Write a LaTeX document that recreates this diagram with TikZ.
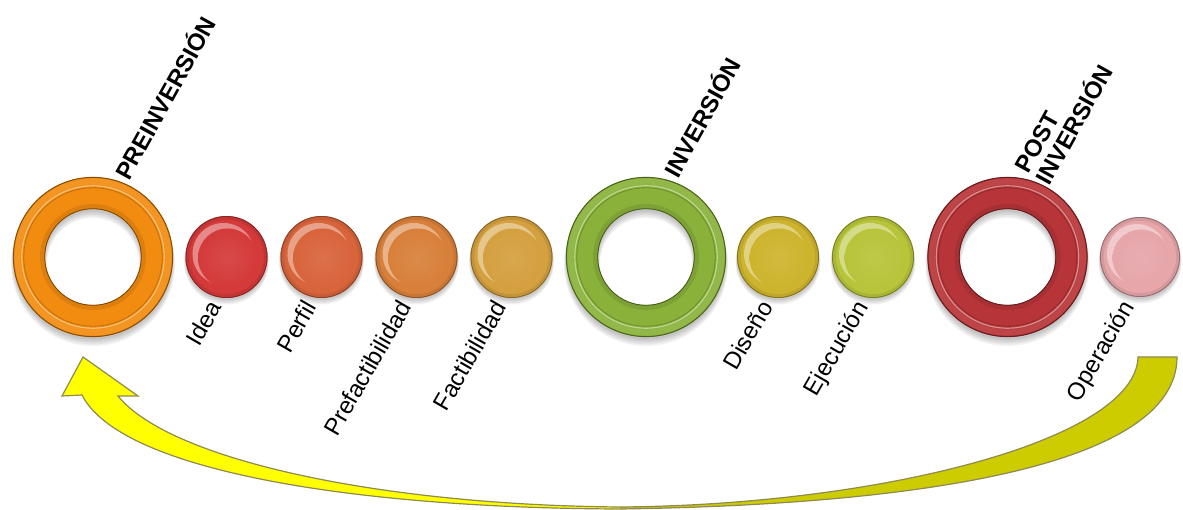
\documentclass[tikz,border=0pt]{standalone}
\usepackage{fontspec}
\setmainfont{Liberation Sans}
\usetikzlibrary{calc}
\definecolor{cPre}{HTML}{F28C10}
\definecolor{cInv}{HTML}{8AB23A}
\definecolor{cPost}{HTML}{B73538}
\definecolor{cIdea}{HTML}{D43A3A}
\definecolor{cPerfil}{HTML}{D8643C}
\definecolor{cPrefac}{HTML}{D8803A}
\definecolor{cFac}{HTML}{D4A040}
\definecolor{cDis}{HTML}{CDB42E}
\definecolor{cEje}{HTML}{B8C43A}
\definecolor{cOpe}{HTML}{E6A6AA}
\definecolor{arrYellow}{HTML}{FFFF00}
\definecolor{arrOlive}{HTML}{CCCC00}
\definecolor{arrEdge}{HTML}{8E8A52}
\tikzset{
  lbl/.style={font=\fontsize{24}{25}\selectfont, rotate=60, anchor=base east, inner sep=0pt},
  head/.style={font=\fontsize{24}{25}\selectfont\bfseries, rotate=61, anchor=base west, inner sep=0pt},
  arrowline/.style={draw=arrEdge, line width=1.2pt, line join=miter},
  holder/.style={circle, inner sep=0pt, draw=none}
}
\newcommand{\myRing}[3]{%
  \node[holder, minimum size=160pt] (#1) at #2 {};
  \begin{scope}[shift={#2}]
    \foreach \s in {1,...,5}{\fill[black,opacity=0.05,even odd rule] (0,2+\s) circle ({79+\s*0.6}) (0,2+\s) circle ({49-\s*0.6});}
    \fill[#3, even odd rule] (0,0) circle (80) (0,0) circle (48);
    \draw[#3!92!white, line width=6pt] (0,0) circle (75.5);
    \draw[#3!55!white, line width=1.2pt] (0,0) circle (71.2);
    \draw[#3!80!black, line width=0.8pt] (0,0) circle (69.2);
    \draw[#3!80!black, line width=5pt, opacity=.45] (0,0) circle (50.5);
    \draw[#3!55!black, line width=1pt] (0,0) circle (79.6);
    \draw[#3!50!black, line width=0.8pt] (0,0) circle (48.3);
  \end{scope}}
\newcommand{\myDisc}[4]{%
  \node[holder, minimum size=82pt] (#1) at #2 {};
  \begin{scope}[shift={#2}]
    \foreach \s in {1,...,4}{\fill[black,opacity=0.06] (0,1+\s) circle ({#4-0.5+\s*0.5});}
    \fill[#3] (0,0) circle (#4);
    \fill[#3!60!white] (-3,-3) circle ({#4-10});
    \shade[inner color=#3!92!white, outer color=#3] (1,1) circle ({#4-11.5});
    \draw[#3!65!black, line width=1pt] (0,0) circle ({#4-0.5});
    \draw[#3!85!black, line width=2.5pt, opacity=0.5] (0,0) circle ({#4-2.5});
  \end{scope}}
\begin{document}
\begin{tikzpicture}[x=1pt,y=-1pt]
\useasboundingbox (0,0) rectangle (1183,510);
% return arrow
\fill[arrYellow] (620,509) .. controls (350,508) and (120,470) .. (82,395)
  -- (62,396) -- (83,357) -- (138,396) -- (118,396)
  .. controls (170,460) and (380,505) .. (620,507) -- cycle;
\fill[arrOlive] (620,507) .. controls (880,505) and (1136,440) .. (1138,357)
  -- (1177,357) .. controls (1177,470) and (900,505) .. (620,509) -- cycle;
\draw[arrowline] (1138,357) -- (1177,357) .. controls (1177,470) and (900,505) .. (620,509)
  .. controls (350,508) and (120,470) .. (82,395)
  -- (62,396) -- (83,357) -- (138,396) -- (118,396)
  .. controls (170,460) and (380,505) .. (620,507)
  .. controls (880,505) and (1136,440) .. (1138,357) -- cycle;
% rings
\myRing{pre}{(93,257)}{cPre}
\myRing{inv}{(646,257)}{cInv}
\myRing{post}{(1007.5,257)}{cPost}
% discs
\myDisc{idea}{(226.5,257)}{cIdea}{41}
\myDisc{perfil}{(321.5,257)}{cPerfil}{41}
\myDisc{prefac}{(416.5,257)}{cPrefac}{41}
\myDisc{fac}{(511.5,257)}{cFac}{41}
\myDisc{dis}{(778,257)}{cDis}{41}
\myDisc{eje}{(873,257)}{cEje}{41}
\myDisc{ope}{(1140,257)}{cOpe}{40}
% labels
\node[lbl] (tIdea) at ($(idea)+(-4,50)$) {Idea};
\node[lbl] (tPerfil) at ($(perfil)+(-4,50)$) {Perfil};
\node[lbl] (tPrefac) at ($(prefac)+(-4,50)$) {Prefactibilidad};
\node[lbl] (tFac) at ($(fac)+(-4,50)$) {Factibilidad};
\node[lbl] (tDis) at ($(dis)+(-4,50)$) {Diseño};
\node[lbl] (tEje) at ($(eje)+(-4,50)$) {Ejecución};
\node[lbl] (tOpe) at ($(ope)+(-5,50)$) {Operación};
% headings
\node[head] (hPre) at ($(pre)+(36,-75)$) {PREINVERSIÓN};
\node[head] (hInv) at ($(inv)+(32,-77)$) {INVERSIÓN};
\node[head] (hPostA) at ($(post)+(21,-82)$) {POST};
\node[head] (hPostB) at ($(post)+(42,-70)$) {INVERSIÓN};
\end{tikzpicture}
\end{document}
